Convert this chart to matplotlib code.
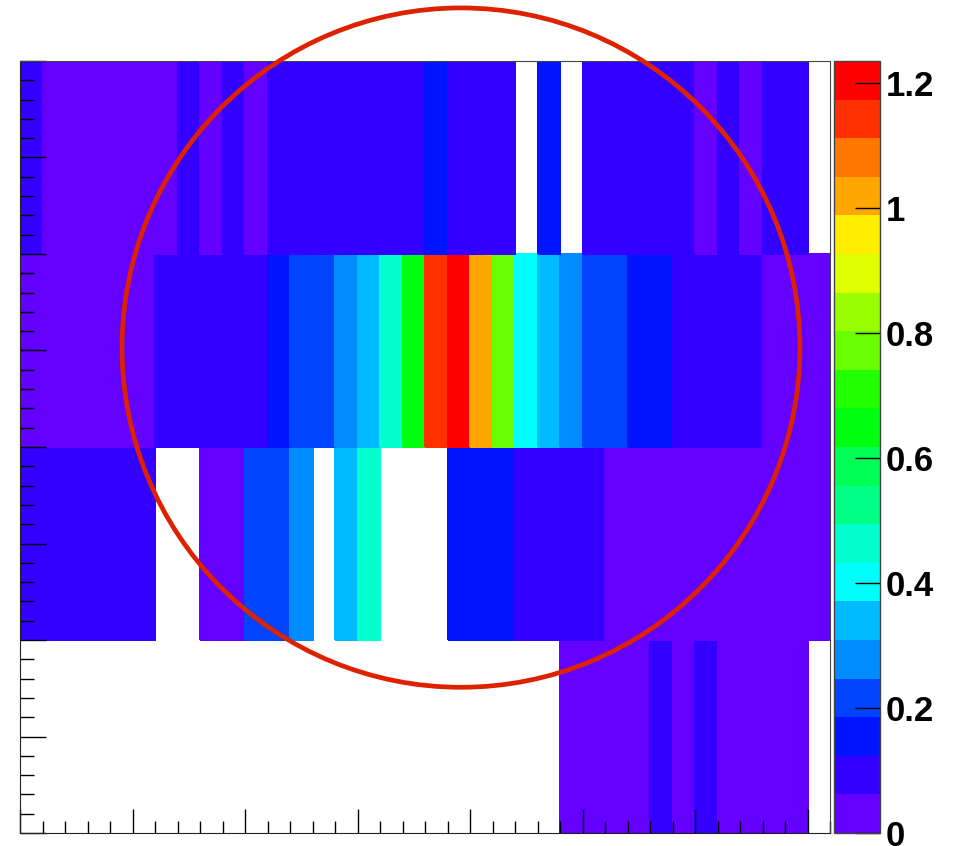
import colorsys
import numpy as np
import matplotlib
matplotlib.use("Agg")
import matplotlib.pyplot as plt
from matplotlib.colors import ListedColormap, BoundaryNorm
from matplotlib.patches import Ellipse
from matplotlib.ticker import MultipleLocator

N = np.nan

# bin contents, 36 x-bins per row, rows bottom -> top
row_0 = [N] * 24 + [0.03, 0.03, 0.03, 0.03, 0.09, 0.03, 0.09, 0.03, 0.03, 0.03, 0.03, N]
row_1 = [0.09] * 6 + [N, N, 0.03, 0.03, 0.22, 0.22, 0.28, N, 0.34, 0.46, N, N, N,
                      0.15, 0.15, 0.15, 0.09, 0.09, 0.09, 0.09] + [0.03] * 10
row_2 = [0.03] * 6 + [0.09] * 5 + [0.15, 0.22, 0.22, 0.28, 0.34, 0.46, 0.65, 1.14, 1.22,
                                   1.02, 0.77, 0.40, 0.34, 0.28, 0.22, 0.22, 0.15, 0.15,
                                   0.09, 0.09, 0.09, 0.09, 0.03, 0.03, 0.03]
row_3 = [0.09] + [0.03] * 6 + [0.09, 0.03, 0.09, 0.03] + [0.09] * 7 + \
        [0.15, 0.09, 0.09, 0.09, N, 0.15, N, 0.09, 0.09, 0.09, 0.09, 0.09,
         0.03, 0.09, 0.03, 0.09, 0.09, N]

x_edges = np.arange(0, 37)
y_edges = np.arange(0, 5)
cbar_ticks = [0, 0.2, 0.4, 0.6, 0.8, 1.0, 1.2]
cbar_labels = ["0", "0.2", "0.4", "0.6", "0.8", "1", "1.2"]

ZMAX = 1.235
NLEV = 20

# ROOT "pretty" palette (50 colours), 20 contour levels picked from it
pal = []
for i in range(50):
    hue = 280.0 - (i + 1) * 5.6
    pal.append(colorsys.hls_to_rgb(hue / 360.0, 0.5, 1.0))
colors = [pal[int((k + 0.99) * 50 / NLEV)] for k in range(NLEV)]
cmap = ListedColormap(colors)
levels = np.linspace(0, ZMAX, NLEV + 1)
norm = BoundaryNorm(levels, NLEV)

z = np.ma.masked_invalid(np.array([row_0, row_1, row_2, row_3]))

fig = plt.figure(figsize=(9.54, 8.46), dpi=100)
ax = fig.add_axes([20 / 954, 13 / 846, 810 / 954, 772 / 846])
mesh = ax.pcolormesh(x_edges, y_edges, z, cmap=cmap, norm=norm,
                     edgecolors="face", linewidth=0.3, antialiased=False)
ax.set_xlim(0, 36)
ax.set_ylim(0, 4)

ax.xaxis.set_major_locator(MultipleLocator(5))
ax.xaxis.set_minor_locator(MultipleLocator(1))
ax.yaxis.set_major_locator(MultipleLocator(0.5))
ax.yaxis.set_minor_locator(MultipleLocator(0.1))
ax.tick_params(axis="x", which="major", direction="in", length=17, width=1,
               labelbottom=False)
ax.tick_params(axis="x", which="minor", direction="in", length=8.5, width=1)
ax.tick_params(axis="y", which="major", direction="in", length=18.5, width=1,
               labelleft=False)
ax.tick_params(axis="y", which="minor", direction="in", length=10, width=1)
for side in ["top", "right"]:
    ax.spines[side].set_color("#444444")
for side in ["left", "bottom"]:
    ax.spines[side].set_color("#222222")

# red circle marking the region of interest
circ = Ellipse((19.6, 2.515), 30.13, 3.52, fill=False, edgecolor="#de2200",
               linewidth=3.4, clip_on=False, zorder=10)
ax.add_patch(circ)

cax = fig.add_axes([834.5 / 954, 13 / 846, 46 / 954, 772 / 846])
cb = fig.colorbar(mesh, cax=cax, spacing="proportional")
cb.outline.set_edgecolor("#444444")
cb.outline.set_linewidth(1)
cb.set_ticks(cbar_ticks)
cb.set_ticklabels(cbar_labels)
cb.ax.minorticks_off()
cax.yaxis.set_ticks_position("right")
cax.tick_params(axis="y", direction="in", length=18, width=1, pad=4,
                labelsize=25)
for lab in cax.get_yticklabels():
    lab.set_fontfamily("Liberation Sans")
    lab.set_fontweight("bold")

fig.savefig("out.png", dpi=100)
